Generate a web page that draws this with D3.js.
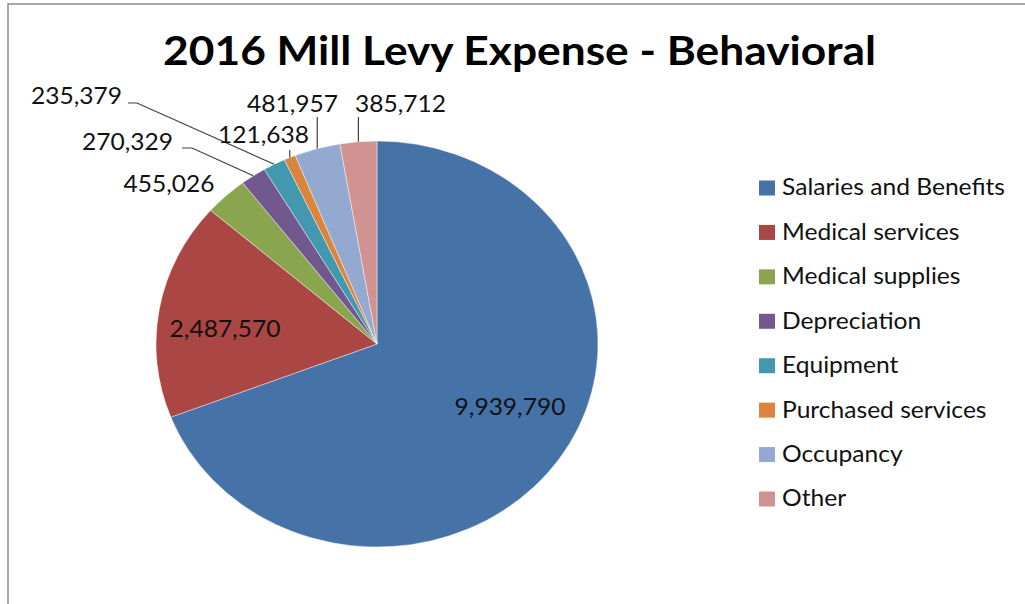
<!DOCTYPE html>
<html>
<head>
<meta charset="utf-8">
<script src="https://cdn.jsdelivr.net/npm/d3@7"></script>
<style>
  html, body { margin: 0; padding: 0; background: #fff; }
  svg { display: block; }
  text { font-family: "Lato", "Open Sans", sans-serif; }
</style>
</head>
<body>
<svg id="chart" width="1025" height="604"></svg>
<script>
// ---- data ----
const title = "2016 Mill Levy Expense - Behavioral";
const categories = ["Salaries and Benefits", "Medical services", "Medical supplies", "Depreciation",
                    "Equipment", "Purchased services", "Occupancy", "Other"];
const values = [9939790, 2487570, 455026, 270329, 235379, 121638, 481957, 385712];
const colors = ["#4572A7", "#AA4643", "#89A54E", "#71588F", "#4198AF", "#DB843D", "#93A9CF", "#D19392"];

// ---- layout (screen coordinates) ----
const W = 1025, H = 604;
const sx = 221 / 203;               // horizontal stretch of the picture
const cxS = 377, cyS = 344, R = 203;
// label placement: x (screen), baseline y, anchor, leader type
const labelLayout = [
  { x: 510, y: 415, anchor: "middle", leader: "none" },
  { x: 225, y: 337, anchor: "middle", leader: "none" },
  { x: 169, y: 192, anchor: "middle", leader: "none" },
  { x: 173, y: 150, anchor: "end", leader: "elbow", ex: 192, ey: 148, hx: 182 },
  { x: 122, y: 104, anchor: "end", leader: "elbow", ex: 137, ey: 103, hx: 128 },
  { x: 309, y: 143, anchor: "end", leader: "vertical", top: 150 },
  { x: 338, y: 112, anchor: "end", leader: "vertical", top: 117 },
  { x: 355, y: 112, anchor: "start", leader: "vertical", top: 117 }
];

const svg = d3.select("#chart");
svg.append("rect").attr("width", W).attr("height", H).attr("fill", "#fff");

// frame (cropped chart border)
svg.append("path")
  .attr("d", `M8,${H} L8,4 L${W},4`)
  .attr("fill", "none").attr("stroke", "#8c8c8c").attr("stroke-width", 1.5);

const g = svg.append("g").attr("transform", `scale(${sx},1)`);
const X = x => x / sx;  // screen -> inner

const fmt = d3.format(",");

// fit helper: set font size so that a text's width matches a target (inner units)
function fitSize(sample, weight, target) {
  const t = g.append("text").attr("font-size", 100).attr("font-weight", weight).text(sample);
  const w = t.node().getComputedTextLength();
  t.remove();
  return 100 * target / w;
}

// title
const titleSize = fitSize(title, "bold", X(876) - X(163));
g.append("text")
  .attr("x", X(519.5)).attr("y", 65)
  .attr("text-anchor", "middle")
  .attr("font-weight", "bold")
  .attr("font-size", titleSize)
  .attr("fill", "#000")
  .text(title);

// pie
const pie = d3.pie().sort(null).value(d => d);
const arcs = pie(values);
const arc = d3.arc().innerRadius(0).outerRadius(R);
const pg = g.append("g").attr("transform", `translate(${X(cxS)},${cyS})`);
pg.selectAll("path").data(arcs).join("path")
  .attr("d", arc)
  .attr("fill", (d, i) => colors[i])
  .attr("stroke", "#ffffff").attr("stroke-width", 0.7).attr("stroke-opacity", 0.6);

// data labels
const labelSize = fitSize("481,957", "normal", X(338) - X(247));
arcs.forEach((a, i) => {
  const L = labelLayout[i];
  const mid = (a.startAngle + a.endAngle) / 2;
  const px = X(cxS) + R * Math.sin(mid);
  const py = cyS - R * Math.cos(mid);
  if (L.leader === "vertical") {
    g.append("line")
      .attr("x1", px).attr("y1", py).attr("x2", px).attr("y2", L.top)
      .attr("stroke", "#404040").attr("stroke-width", 1.1);
  } else if (L.leader === "elbow") {
    g.append("polyline")
      .attr("points", `${px},${py} ${X(L.ex)},${L.ey} ${X(L.hx)},${L.ey}`)
      .attr("fill", "none").attr("stroke", "#404040").attr("stroke-width", 1.1);
  }
  g.append("text")
    .attr("x", X(L.x)).attr("y", L.y)
    .attr("text-anchor", L.anchor)
    .attr("font-size", labelSize)
    .attr("fill", "#111")
    .text(fmt(values[i]));
});

// legend
const legendSize = fitSize("Salaries and Benefits", "normal", X(1005) - X(782));
const ly = d3.scalePoint().domain(categories).range([188, 499]);
const lg = g.append("g");
categories.forEach((c, i) => {
  lg.append("rect")
    .attr("x", X(759)).attr("y", ly(c) - 7.5)
    .attr("width", X(775) - X(759)).attr("height", 15)
    .attr("fill", colors[i]);
  lg.append("text")
    .attr("x", X(782)).attr("y", ly(c) + 7.5)
    .attr("font-size", legendSize)
    .attr("fill", "#111")
    .text(c);
});
</script>
</body>
</html>
